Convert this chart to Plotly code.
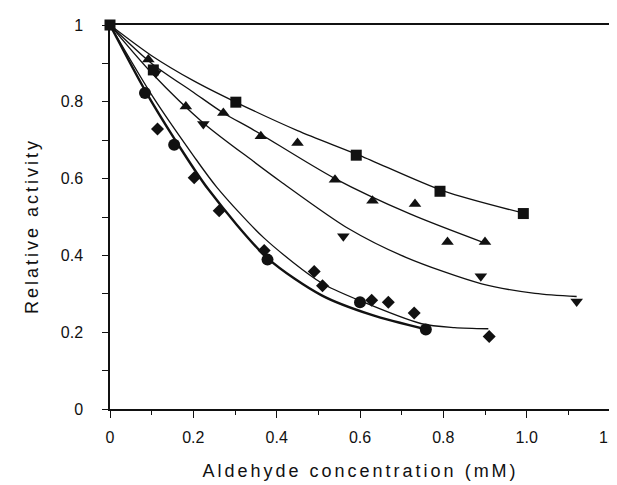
import plotly.graph_objects as go

# ---- measured data points ----
sq_x = [0.0, 0.104, 0.302, 0.591, 0.792, 0.992]
sq_y = [1.0, 0.883, 0.799, 0.661, 0.567, 0.509]

tu_x = [0.092, 0.182, 0.272, 0.362, 0.45, 0.54, 0.63, 0.732, 0.81, 0.9]
tu_y = [0.91, 0.788, 0.771, 0.71, 0.693, 0.597, 0.542, 0.534, 0.435, 0.435]

td_x = [0.11, 0.224, 0.56, 0.89, 1.12]
td_y = [0.875, 0.742, 0.45, 0.346, 0.28]

ci_x = [0.084, 0.154, 0.378, 0.6, 0.758]
ci_y = [0.823, 0.688, 0.389, 0.278, 0.207]

di_x = [0.114, 0.202, 0.262, 0.37, 0.49, 0.51, 0.628, 0.668, 0.73, 0.91]
di_y = [0.729, 0.602, 0.516, 0.413, 0.358, 0.321, 0.283, 0.278, 0.25, 0.189]

# ---- fitted curves ----
sq_fit_x = [0.0, 0.1, 0.2, 0.3, 0.45, 0.6, 0.8, 1.0]
sq_fit_y = [1.0, 0.92, 0.855, 0.8, 0.725, 0.66, 0.568, 0.508]

tu_fit_x = [0.0, 0.1, 0.2, 0.272, 0.344, 0.54, 0.72, 0.9]
tu_fit_y = [1.0, 0.9, 0.825, 0.771, 0.727, 0.6, 0.508, 0.432]

td_fit_x = [0.0, 0.1, 0.224, 0.344, 0.41, 0.572, 0.71, 0.892, 1.02, 1.12]
td_fit_y = [1.0, 0.875, 0.745, 0.645, 0.592, 0.47, 0.395, 0.326, 0.301, 0.293]

ci_fit_x = [0.0, 0.084, 0.154, 0.236, 0.378, 0.508, 0.628, 0.76]
ci_fit_y = [1.0, 0.83, 0.705, 0.572, 0.393, 0.296, 0.245, 0.207]

di_fit_x = [0.0, 0.1, 0.2, 0.256, 0.37, 0.508, 0.6, 0.748, 0.827, 0.908]
di_fit_y = [1.0, 0.818, 0.66, 0.578, 0.445, 0.328, 0.282, 0.222, 0.212, 0.209]

x_tickvals = [0, 0.2, 0.4, 0.6, 0.8, 1.0, 1.2]
x_ticktext = ["0", "0.2", "0.4", "0.6", "0.8", "1.0", "1.2"]
y_tickvals = [0, 0.2, 0.4, 0.6, 0.8, 1.0]
y_ticktext = ["0", "0.2", "0.4", "0.6", "0.8", "1"]

FONT = "Liberation Sans, Arial, sans-serif"
INK = "#111111"

fig = go.Figure()

def curve(x, y, w):
    fig.add_trace(go.Scatter(x=x, y=y, mode="lines",
                             line=dict(color=INK, width=w, shape="spline", smoothing=0.8),
                             hoverinfo="skip", showlegend=False, cliponaxis=False))

def pts(x, y, sym, size):
    fig.add_trace(go.Scatter(x=x, y=y, mode="markers",
                             marker=dict(symbol=sym, size=size, color=INK, line=dict(width=0)),
                             showlegend=False, cliponaxis=False))

curve(sq_fit_x, sq_fit_y, 1.3)
curve(tu_fit_x, tu_fit_y, 1.3)
curve(td_fit_x, td_fit_y, 1.3)
curve(di_fit_x, di_fit_y, 1.3)
curve(ci_fit_x, ci_fit_y, 2.4)

pts(td_x, td_y, "triangle-down", 11)
pts(tu_x, tu_y, "triangle-up", 11)
pts(di_x, di_y, "diamond", 10)
pts(ci_x, ci_y, "circle", 12)
pts(sq_x, sq_y, "square", 11)

axis_common = dict(showline=True, linecolor=INK, linewidth=1.5, mirror=True, automargin=False,
                   showgrid=False, zeroline=False, ticks="outside", tickcolor=INK,
                   tickwidth=1.2, tickfont=dict(family=FONT, size=16, color=INK))

fig.update_xaxes(range=[0, 1.2], tickmode="array", tickvals=x_tickvals, ticktext=x_ticktext,
                 ticklen=7, ticklabelstandoff=6,
                 minor=dict(dtick=0.1, tick0=0, ticks="outside", ticklen=4, tickcolor=INK, tickwidth=1.2),
                 **axis_common)
fig.update_yaxes(range=[0, 1.0], tickmode="array", tickvals=y_tickvals, ticktext=y_ticktext,
                 ticklen=6, ticklabelstandoff=16,
                 minor=dict(dtick=0.1, tick0=0, ticks="outside", ticklen=6, tickcolor=INK, tickwidth=1.2),
                 **axis_common)

fig.add_annotation(text="Aldehyde concentration (mM)", xref="paper", yref="paper",
                   x=0.5, y=0, yshift=-62, xanchor="center", yanchor="middle",
                   showarrow=False, font=dict(family=FONT, size=18, color=INK))
fig.add_annotation(text="Relative activity", xref="paper", yref="paper",
                   x=0, xshift=-78, y=0.475, textangle=-90, xanchor="center", yanchor="middle",
                   showarrow=False, font=dict(family=FONT, size=18, color=INK))

fig.update_layout(width=617, height=485, margin=dict(l=102, r=15, t=17, b=84, autoexpand=False),
                  paper_bgcolor="white", plot_bgcolor="white")

post = """
document.querySelectorAll('.annotation-text').forEach(function(e){e.style.letterSpacing='3px';});
"""
fig.write_html("out.html", post_script=post)
